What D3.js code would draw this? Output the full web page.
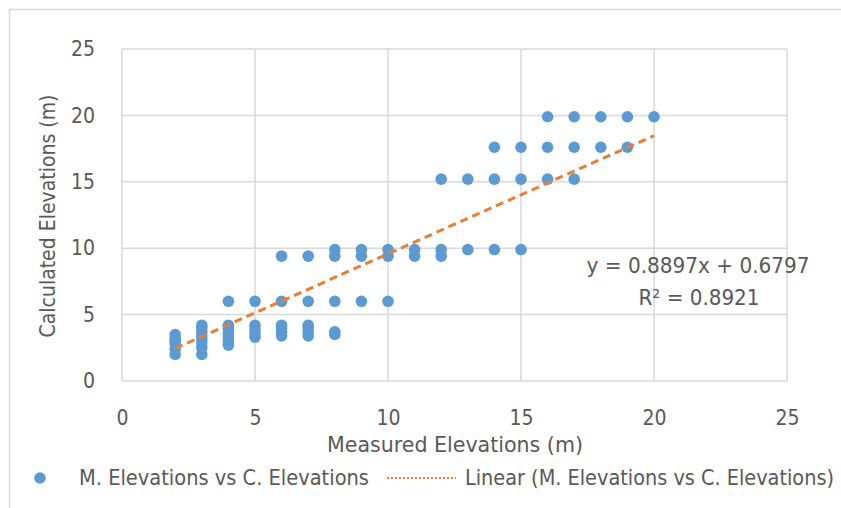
<!DOCTYPE html>
<html><head><meta charset="utf-8">
<script src="https://cdn.jsdelivr.net/npm/d3@7"></script>
<style>body{margin:0;background:#fff}svg{display:block}</style>
</head><body>
<svg id="c" width="841" height="508"></svg>
<script>
const measured   = [2,2,2,2,2,2, 3,3,3,3,3,3,3,3, 4,4,4,4,4,4,4, 5,5,5,5,5, 6,6,6,6,6,6, 7,7,7,7,7,7, 8,8,8,8,8, 9,9,9, 10,10,10, 11,11, 12,12,12, 13,13, 14,14,14, 15,15,15, 16,16,16, 17,17,17, 18,18, 19,19, 20];
const calculated = [2.0,2.4,2.8,3.0,3.2,3.5, 2.0,2.5,2.8,3.1,3.4,3.7,4.0,4.2, 2.7,3.0,3.3,3.6,3.9,4.2,6.0, 3.3,3.6,3.9,4.2,6.0, 3.4,3.7,4.0,4.2,6.0,9.4, 3.4,3.7,4.0,4.2,6.0,9.4, 3.5,3.7,6.0,9.4,9.9, 6.0,9.4,9.9, 6.0,9.4,9.9, 9.4,9.9, 9.4,9.9,15.2, 9.9,15.2, 9.9,15.2,17.6, 9.9,15.2,17.6, 15.2,17.6,19.9, 15.2,17.6,19.9, 17.6,19.9, 17.6,19.9, 19.9];
const slope = 0.8897, intercept = 0.6797, r2 = 0.8921;
const xTicks = [0,5,10,15,20,25];
const yTicks = [0,5,10,15,20,25];
const seriesName = "M. Elevations vs C. Elevations";
const trendName = "Linear (M. Elevations vs C. Elevations)";

const svg = d3.select("#c");
const font = "'DejaVu Sans Condensed','Liberation Sans Narrow',sans-serif";
const grey = "#595959";
svg.append("rect").attr("x",9.5).attr("y",9.5).attr("width",840).attr("height",510)
  .attr("fill","#fff").attr("stroke","#D9D9D9").attr("stroke-width",1.5);

const x = d3.scaleLinear().domain([0,25]).range([122,787]);
const y = d3.scaleLinear().domain([0,25]).range([381,49]);

const g = svg.append("g");
g.selectAll(".vg").data(xTicks).join("line")
  .attr("x1",d=>x(d)).attr("x2",d=>x(d)).attr("y1",y(0)).attr("y2",y(25))
  .attr("stroke","#D9D9D9").attr("stroke-width",1.5);
g.selectAll(".hg").data(yTicks).join("line")
  .attr("x1",x(0)).attr("x2",x(25)).attr("y1",d=>y(d)).attr("y2",d=>y(d))
  .attr("stroke","#D9D9D9").attr("stroke-width",1.5);

const xAxis = svg.append("g").attr("transform",`translate(0,${y(0)})`)
  .call(d3.axisBottom(x).tickValues(xTicks).tickSize(0).tickPadding(29));
const yAxis = svg.append("g").attr("transform",`translate(${x(0)},0)`)
  .call(d3.axisLeft(y).tickValues(yTicks).tickSize(0).tickPadding(27));
[xAxis,yAxis].forEach(a=>{
  a.select(".domain").remove();
  a.selectAll("text").attr("fill",grey).style("font-family",font).style("font-size","21px");
});

svg.append("g").selectAll("circle").data(measured.map((m,i)=>[m,calculated[i]])).join("circle")
  .attr("cx",d=>x(d[0])).attr("cy",d=>y(d[1])).attr("r",5.8).attr("fill","#5B9BD5");

const xmin = d3.min(measured), xmax = d3.max(measured);
svg.append("line").attr("x1",x(xmin)).attr("y1",y(slope*xmin+intercept))
  .attr("x2",x(xmax)).attr("y2",y(slope*xmax+intercept))
  .attr("stroke","#ED7D31").attr("stroke-width",3).attr("stroke-dasharray","8,5");

function label(xp, yp, txt, size, len, anchor, transform){
  const t = svg.append("text").attr("fill",grey).style("font-family",font).style("font-size",size+"px")
    .attr("text-anchor",anchor||"start").attr("textLength",len).attr("lengthAdjust","spacingAndGlyphs").text(txt);
  if (transform) t.attr("transform",transform); else t.attr("x",xp).attr("y",yp);
  return t;
}
label(698,273,`y = ${slope}x + ${intercept}`,22,223,"middle");
label(699,305,`R² = ${r2}`,22,121,"middle");
label(455,452,"Measured Elevations (m)",22,256,"middle");
label(0,0,"Calculated Elevations (m)",22,243,"middle","translate(55,216) rotate(-90)");

svg.append("circle").attr("cx",40).attr("cy",478).attr("r",5.8).attr("fill","#5B9BD5");
label(79,485,seriesName,21,290,"start");
svg.append("line").attr("x1",387).attr("x2",456).attr("y1",478).attr("y2",478)
  .attr("stroke","#ED7D31").attr("stroke-width",2).attr("stroke-dasharray","2,2");
label(465,485,trendName,21,369,"start");
</script>
</body></html>
